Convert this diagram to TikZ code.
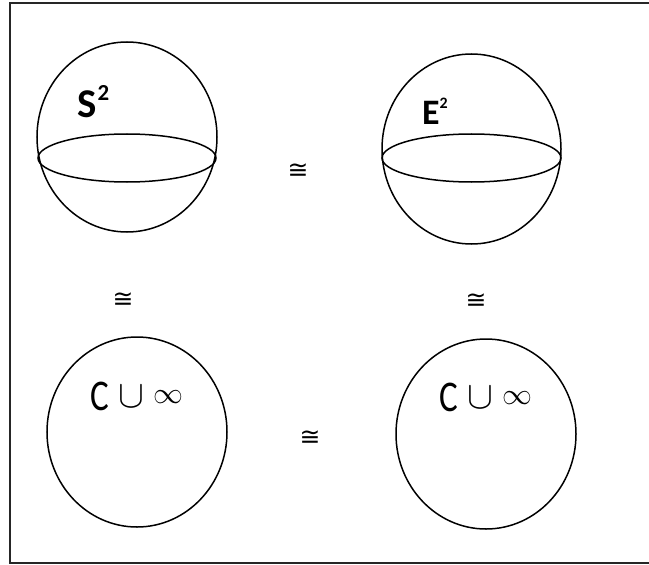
\documentclass[tikz,border=0pt]{standalone}
\usepackage{fontspec}
\setmainfont{Carlito}
\newfontfamily\symfont{DejaVu Sans}
\usepackage{graphicx}
\usetikzlibrary{shapes.geometric}

\newcommand{\cupinf}{%
    {\fontsize{44}{44}\selectfont\scalebox{0.8}[1]{C}}\hspace{9bp}%
    \raisebox{3bp}{\scalebox{3.9}{$\cup$}}\hspace{9bp}%
    \raisebox{7bp}{\scalebox{3.0}{$\infty$}}}

\begin{document}
\begin{tikzpicture}[
    x=1bp, y=-1bp,
    ball/.style={
        ellipse,
        draw=black,
        line width=1.5bp,
        inner sep=0pt,
        minimum width=180bp,
        minimum height=190bp
    },
    rim/.style={
        ellipse,
        draw=black,
        line width=1.5bp,
        inner sep=0pt,
        minimum width=178bp,
        minimum height=48bp
    },
    iso/.style={
        inner sep=0pt,
        font=\symfont\fontsize{25}{25}\selectfont
    },
    lbl/.style={
        inner sep=0pt,
        anchor=base west
    }
]
    \useasboundingbox (0,0) rectangle (649,565);

    % Rahmen (rechts offen)
    \draw[line width=1.8bp, black!85] (649,3) -- (10,3) -- (10,563) -- (649,563);

    % Kugeln oben
    \node[ball] (sph) at (127,137) {};
    \node[rim] (sphrim) at (127,158) {};
    \node[ball, minimum width=179bp] (euc) at (471.5,149) {};
    \node[rim, minimum width=179bp] (eucrim) at (471.5,158) {};

    % Kreise unten
    \node[ball] (cpl) at (137,432) {};
    \node[ball] (cpr) at (486,434) {};

    % Beschriftungen
    \node[lbl] (sphlbl) at (77,118) {\fontsize{41}{41}\selectfont\bfseries S\hspace{1bp}\raisebox{17bp}{\fontsize{23}{23}\selectfont 2}};
    \node[lbl] (euclbl) at (422,125) {\fontsize{36}{36}\selectfont\bfseries E\raisebox{16bp}{\fontsize{16}{16}\selectfont 2}};
    \node[lbl, anchor=base] (cpllbl) at (137,410) {\cupinf};
    \node[lbl, anchor=base] (cprlbl) at (486,411) {\cupinf};

    % Isomorphie-Zeichen
    \node[iso] (isotop) at (298,171) {≅};
    \node[iso] (isoleft) at (123,300) {≅};
    \node[iso] (isoright) at (476,301) {≅};
    \node[iso] (isobot) at (310,438) {≅};

\end{tikzpicture}
\end{document}
